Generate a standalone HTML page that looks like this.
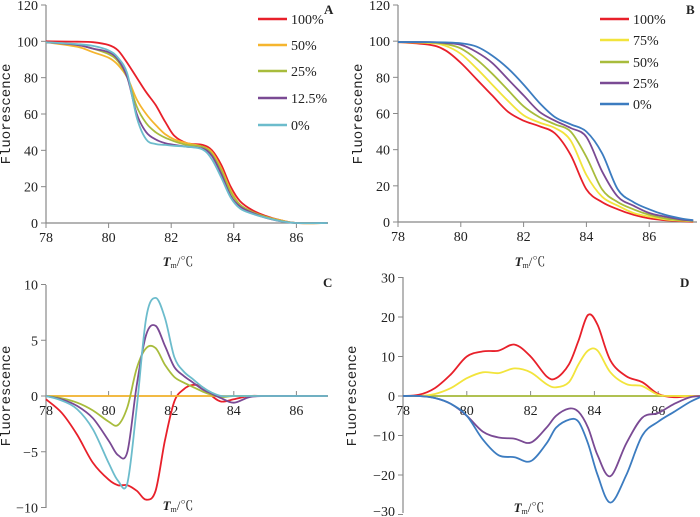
<!DOCTYPE html>
<html><head><meta charset="utf-8"><style>
html,body{margin:0;padding:0;background:#fff;}
svg{display:block;font-family:"Liberation Serif","Noto Serif CJK SC",serif;}
</style></head><body>
<svg id="c" width="700" height="517" viewBox="0 0 700 517"></svg>
<script>
// ---- Panel A data ----
const xA=[78,79,79.5,80,80.3,80.6,80.9,81.2,81.5,81.8,82.1,82.5,83,83.3,83.6,83.9,84.2,84.6,85,85.5,86,87];
const aRed=[100,99.8,99.5,98,95,88,80,72,65,56,48,44,43,40,32,20,12,7,4,1.5,0,0];
const aOrange=[99.5,97,94,91,87,80,68,60,54,49,46,44,42,39,30,18,10,6,3.5,1.5,0,0];
const aGreen=[99.5,98,96,93,89,80,64,55,50,47,45,43,42,38,29,17,10,6,3.5,1.2,0,0];
const aPurple=[99.5,98,96,94,90,80,60,50,46,44,43,42,41,37,27,15,9,5.5,3,1,0,0];
const aCyan=[99.5,98.5,97.5,95,91,82,58,46,43.5,43,42.5,42,40.5,35,25,14,8,5,3,1,0,0];
const legA=["100%","50%","25%","12.5%","0%"];
// ---- Panel B data ----
const xB=[78,79,79.5,80,80.5,81,81.5,82,82.5,83,83.5,84,84.5,85,85.5,86,86.5,87,87.4];
const bRed=[99.5,98,95,88,79,70,61,56,53,49,37,18,11,7,4,2,1,0.5,0];
const bYellow=[99.5,99,97.5,93,85,76,67,59,55,52,45,26,14,9,5,3,1.5,0.8,0.3];
const bGreen=[99.5,99.3,98.5,96,90,82,73,64,58,54,50,36,18,11,7,4,2,1,0.5];
const bPurple=[99.5,99.5,99,98,94,88,79,70,61,56,52,47,28,14,9,5,3,1.5,0.7];
const bBlue=[99.5,99.5,99.3,98.8,97,92,85,76,66,58,54,50,38,18,11,7,4,2,1];
const legB=["100%","75%","50%","25%","0%"];
// ---- Panel C data ----
const xC=[78,78.5,79,79.5,80,80.3,80.6,80.9,81.2,81.5,81.8,82.1,82.4,82.7,83,83.3,83.6,84,84.5,85,86,87];
const cRed=[-0.3,-1.5,-3.5,-6,-7.5,-8,-8,-8.5,-9.3,-8.5,-4,-0.5,0.6,1,0.8,0,-0.5,-0.3,0,0,0,0];
const cOrange=[0,0,0,0,0,0,0,0,0,0,0,0,0,0,0,0,0,0,0,0,0,0];
const cGreen=[0,-0.2,-0.6,-1.3,-2.3,-2.6,-1,2.5,4.3,4.3,2.8,1.7,1.2,0.8,0.4,0.1,-0.1,0,0,0,0,0];
const cPurple=[0,-0.3,-0.9,-2,-4,-5.3,-5,1,5.5,6.3,4.5,2.6,1.8,1.2,0.6,0.2,-0.2,-0.6,-0.1,0,0,0];
const cCyan=[0,-0.4,-1.2,-3,-6,-7.6,-7.8,-1,7,8.8,7,3.5,2.2,1.5,0.8,0.3,0,0,0,0,0,0];
// ---- Panel D data ----
const xD=[78,78.5,79,79.5,80,80.5,81,81.5,82,82.5,82.8,83.2,83.5,83.8,84.1,84.5,85,85.5,86,86.5,87,87.4];
const dRed=[0,0.3,2,5.5,10,11.3,11.5,13,10,5,4.5,8,14,20.5,18,9,5,3.5,0.5,-0.3,0,0];
const dYellow=[0,0,0.5,2,4.5,6,5.8,7,6,3,2.2,3.5,8,11.5,11.5,6,3,2.5,0.3,0,0,0];
const dGreen=[0,0,0,0,0,0,0,0,0,0,0,0,0,0,0,0,0,0,0,0,0,0];
const dPurple=[0,0,-0.5,-2,-5,-9,-10.5,-10.8,-11.8,-8,-5,-3.2,-4,-8,-15,-20.3,-12,-5.5,-4.3,-2,-0.3,0];
const dBlue=[0,0,-0.5,-2,-5,-11,-15,-15.5,-16.5,-12,-8,-6,-6.5,-12,-20,-27,-20,-10,-6.5,-4,-1.5,0];

const NS="http://www.w3.org/2000/svg";
const svg=document.getElementById('c');
function el(t,a,p){const e=document.createElementNS(NS,t);for(const k in a)e.setAttribute(k,a[k]);(p||svg).appendChild(e);return e;}
const RED="#e8202a",ORANGE="#f5b52e",YEL="#f2e43c",OLIVE="#a8bc3c",PUR="#7a4a94",CYAN="#6cbccc",BLUE="#3c7cc0";

function smooth(pts){let d="M"+pts[0][0]+","+pts[0][1];
 for(let i=0;i<pts.length-1;i++){const p0=pts[Math.max(0,i-1)],p1=pts[i],p2=pts[i+1],p3=pts[Math.min(pts.length-1,i+2)];
  const c1=[p1[0]+(p2[0]-p0[0])/6,p1[1]+(p2[1]-p0[1])/6],c2=[p2[0]-(p3[0]-p1[0])/6,p2[1]-(p3[1]-p1[1])/6];
  d+=` C${c1[0].toFixed(1)},${c1[1].toFixed(1)} ${c2[0].toFixed(1)},${c2[1].toFixed(1)} ${p2[0].toFixed(1)},${p2[1].toFixed(1)}`;}
 return d;}

function panel(o){
 const g=el('g',{});
 
 
 const sx=v=>o.x0+(v-78)*o.kx, sy=v=>o.y0-(v-o.yref)*o.ky;
 const ya=el('line',{x1:o.x0,x2:o.x0,y1:o.yTop,y2:o.yBot,stroke:"#888","stroke-width":1.2},g);
 
 
 const xa=el('line',{x1:o.x0,x2:o.xEnd,y1:sy(0),y2:sy(0),stroke:"#888","stroke-width":1.2},g);
 
 
 o.yt.forEach(v=>{el('line',{x1:o.x0-5,x2:o.x0,y1:sy(v),y2:sy(v),stroke:"#888"},g);
  const t=el('text',{x:o.x0-8,y:Math.min(sy(v)+5,516),"text-anchor":"end","font-size":14,fill:"#222"},g);t.textContent=(v<0?"−"+(-v):v);
  
  });
 [78,80,82,84,86].forEach(v=>{el('line',{x1:sx(v),x2:sx(v),y1:sy(0)-(o.up?5:0),y2:sy(0)+(o.up?0:5),stroke:"#888"},g);
  const t=el('text',{x:sx(v),y:sy(0)+19,"text-anchor":"middle","font-size":14,fill:"#222"},g);t.textContent=v;
  
  });
 o.series.forEach(s=>{const p=el('path',{d:smooth(o.xs.map((x,i)=>[sx(x),sy(s.v[i])])),fill:"none",stroke:s.c,"stroke-width":1.8},g);
  
  });
 const yl=el('text',{x:0,y:0,transform:`translate(${o.ylx},${o.yly}) rotate(-90)`,"text-anchor":"middle","font-size":14,"font-family":"Liberation Mono,monospace",fill:"#222"},g);yl.textContent="Fluorescence";
 
 
 const xl=el('text',{x:o.xlx,y:o.xly,"text-anchor":"middle","font-size":13,fill:"#222"},g);
 
 
 const ti=el('tspan',{"font-style":"italic","font-weight":"bold"},xl);ti.textContent="T";
 const ts=el('tspan',{"font-size":8,dy:2},xl);ts.textContent="m";
 const tr=el('tspan',{dy:-2},xl);tr.textContent="/℃";
 const pl=el('text',{x:o.lx,y:o.ly,"font-size":13,fill:"#222","font-weight":"bold"},g);pl.textContent=o.letter;
 
 
 if(o.leg){o.leg.forEach((n,i)=>{const y=o.legY[i];
  el('line',{x1:o.legX,x2:o.legX+29,y1:y,y2:y,stroke:o.series[i].c,"stroke-width":2.5},g);
  const t=el('text',{x:o.legX+33,y:y+5,"font-size":14,fill:"#222"},g);t.textContent=n;
  
  });}
}
panel({name:'panel-a',x0:46,kx:31.3,y0:223,yref:0,ky:218/120,yTop:5,yBot:223,xEnd:327,xs:xA,up:false,
 yt:[0,20,40,60,80,100,120],series:[{c:RED,v:aRed},{c:ORANGE,v:aOrange},{c:OLIVE,v:aGreen},{c:PUR,v:aPurple},{c:CYAN,v:aCyan}],
 ylx:10,yly:114,xlx:178,xly:266,letter:"A",lx:324,ly:14,leg:legA,legX:258,legY:[19,45,71,98,125]});
panel({name:'panel-b',x0:398,kx:31.4,y0:222,yref:0,ky:217/120,yTop:5,yBot:222,xEnd:697,xs:xB,up:false,
 yt:[0,20,40,60,80,100,120],series:[{c:RED,v:bRed},{c:YEL,v:bYellow},{c:OLIVE,v:bGreen},{c:PUR,v:bPurple},{c:BLUE,v:bBlue}],
 ylx:362,yly:114,xlx:530,xly:266,letter:"B",lx:686,ly:14,leg:legB,legX:600,legY:[19,40,62,83,104]});
panel({name:'panel-c',x0:46,kx:31.3,y0:396,yref:0,ky:11.15,yTop:285,yBot:508,xEnd:327,xs:xC,up:true,
 yt:[-10,-5,0,5,10],series:[{c:RED,v:cRed},{c:ORANGE,v:cOrange},{c:OLIVE,v:cGreen},{c:PUR,v:cPurple},{c:CYAN,v:cCyan}],
 ylx:10,yly:396,xlx:178,xly:510,letter:"C",lx:323,ly:287});
panel({name:'panel-d',x0:403,kx:31.9,y0:396,yref:0,ky:3.95,yTop:277,yBot:513,xEnd:697,xs:xD,up:true,
 yt:[-30,-20,-10,0,10,20,30],series:[{c:OLIVE,v:dGreen},{c:RED,v:dRed},{c:YEL,v:dYellow},{c:PUR,v:dPurple},{c:BLUE,v:dBlue}],
 ylx:356,yly:396,xlx:529,xly:512,letter:"D",lx:680,ly:287});
</script>
</body></html>
